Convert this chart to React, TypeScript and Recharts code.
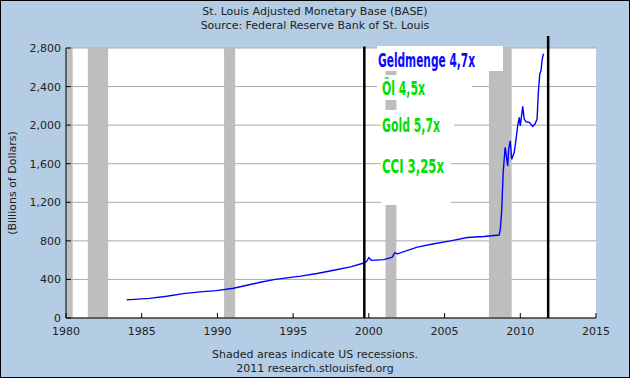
import { LineChart, Line, XAxis, YAxis, CartesianGrid, ReferenceArea, ReferenceLine } from 'recharts'

const years = [
  1984.0, 1985.5, 1986.65, 1987.75, 1988.85, 1989.93, 1991.06, 1992.17, 1992.83, 1993.82,
  1995.5, 1996.58, 1997.68, 1998.79, 1999.67, 1999.85, 2000.0, 2000.16, 2000.99, 2001.55,
  2001.7, 2001.88, 2003.2, 2004.3, 2005.4, 2006.5, 2007.6, 2008.6, 2008.68, 2008.77,
  2008.87, 2009.0, 2009.17, 2009.23, 2009.34, 2009.43, 2009.6, 2009.72, 2009.83, 2009.93,
  2010.0, 2010.16, 2010.26, 2010.38, 2010.6, 2010.82, 2010.97, 2011.11, 2011.19, 2011.29,
  2011.37, 2011.44, 2011.5, 2011.55,
]
const base = [
  188, 204, 225, 253, 271, 284, 309, 347, 371, 400,
  434, 462, 495, 530, 570, 585, 626, 598, 605, 632,
  676, 665, 735, 770, 800, 835, 845, 860, 917, 1108,
  1511, 1771, 1577, 1750, 1837, 1646, 1719, 1855, 1993, 2081,
  1993, 2195, 2063, 2035, 2029, 1987, 2011, 2063, 2341, 2532,
  2566, 2671, 2723, 2740,
]

const recessionStart = [1980.0, 1981.44, 1990.44, 2001.1, 2007.93]
const recessionEnd = [1980.44, 1982.78, 1991.17, 2001.82, 2009.43]
const markerYears = [1999.7, 2011.84]
const markerTops = [2815, 2925]

const xTicks = [1980, 1985, 1990, 1995, 2000, 2005, 2010, 2015]
const yTicks = [0, 400, 800, 1200, 1600, 2000, 2400, 2800]

const notes = ['Geldmenge 4,7x', 'Öl 4,5x', 'Gold 5,7x', 'CCI 3,25x']

const data = years.map((year, i) => ({ year, base: base[i] }))

const FONT = "'DejaVu Sans', Verdana, sans-serif"
const NOTE_FONT = "'DejaVu Sans Condensed', 'DejaVu Sans', sans-serif"

const fmt = (v: number) => v.toLocaleString('en-US')

function XTick({ x, y, payload }: any) {
  return (
    <g>
      <line x1={x} x2={x} y1={y - 5} y2={y} stroke="#000" />
      <text x={x} y={y + 17} textAnchor="middle" fontSize={11} fontFamily={FONT} fill="#222">
        {payload.value}
      </text>
    </g>
  )
}

function YTick({ x, y, payload }: any) {
  return (
    <g>
      <line x1={x} x2={x + 5} y1={y} y2={y} stroke="#000" />
      <text x={x - 5} y={y + 4} textAnchor="end" fontSize={11} fontFamily={FONT} fill="#222">
        {fmt(payload.value)}
      </text>
    </g>
  )
}

// white label boxes pasted over the plot, as in the original
function Notes() {
  const t = { fontSize: 20, fontFamily: NOTE_FONT, fontWeight: 'bold' as const, lengthAdjust: 'spacingAndGlyphs' }
  return (
    <svg width={630} height={378} style={{ position: 'absolute', left: 0, top: 0, pointerEvents: 'none' }}>
      <rect x={377} y={46} width={126} height={25} fill="#fff" />
      <rect x={377} y={75} width={95} height={25} fill="#fff" />
      <rect x={381} y={110} width={73} height={30} fill="#fff" />
      <rect x={381} y={140} width={70} height={65} fill="#fff" />
      <text x={378} y={67} fill="#0a0aff" textLength={97} {...t}>
        {notes[0]}
      </text>
      <text x={382} y={95} fill="#00e000" textLength={43} {...t}>
        {notes[1]}
      </text>
      <text x={382} y={132} fill="#00e000" textLength={58} {...t}>
        {notes[2]}
      </text>
      <text x={382} y={173} fill="#00e000" textLength={62} {...t}>
        {notes[3]}
      </text>
    </svg>
  )
}

export default function App() {
  return (
    <div style={{ position: 'absolute', left: 0, top: 0, width: 630, height: 378, background: '#b4cde4', fontFamily: FONT }}>
      <div style={{ position: 'absolute', top: 5, width: 630, textAlign: 'center', fontSize: 11, lineHeight: '14px', color: '#222' }}>
        St. Louis Adjusted Monetary Base (BASE)
        <br />
        Source: Federal Reserve Bank of St. Louis
      </div>
      <div
        style={{
          position: 'absolute', left: 12, top: 183, fontSize: 11, color: '#222', whiteSpace: 'nowrap',
          transform: 'translate(-50%, -50%) rotate(-90deg)',
        }}
      >
        (Billions of Dollars)
      </div>
      <LineChart width={630} height={378} data={data} margin={{ top: 48, right: 34, bottom: 30, left: 0 }}>
        <CartesianGrid vertical={false} stroke="#aaaaaa" fill="#ffffff" />
        {recessionStart.map((s, i) => (
          <ReferenceArea key={s} x1={s} x2={recessionEnd[i]} y1={0} y2={2800} fill="#bebebe" fillOpacity={1} stroke="none" />
        ))}
        <XAxis
          type="number"
          dataKey="year"
          domain={[1980, 2015]}
          ticks={xTicks}
          interval={0}
          height={30}
          tickSize={0}
          tickMargin={0}
          tick={<XTick />}
          axisLine={{ stroke: '#000' }}
          tickLine={false}
        />
        <YAxis
          domain={[0, 2800]}
          ticks={yTicks}
          interval={0}
          width={66}
          tickSize={0}
          tickMargin={0}
          tick={<YTick />}
          axisLine={{ stroke: '#000' }}
          tickLine={false}
        />
        <Line type="linear" dataKey="base" stroke="#0000ff" strokeWidth={1.4} dot={false} isAnimationActive={false} />
        {markerYears.map((m, i) => (
          <ReferenceLine
            key={m}
            segment={[{ x: m, y: 0 }, { x: m, y: markerTops[i] }]}
            stroke="#000"
            strokeWidth={2.5}
            ifOverflow="visible"
          />
        ))}
      </LineChart>
      <Notes />
      <div style={{ position: 'absolute', top: 348, width: 630, textAlign: 'center', fontSize: 11, lineHeight: '14px', color: '#222' }}>
        Shaded areas indicate US recessions.
        <br />
        2011 research.stlouisfed.org
      </div>
      <div style={{ position: 'absolute', inset: 0, border: '1px solid #000', pointerEvents: 'none' }} />
    </div>
  )
}
